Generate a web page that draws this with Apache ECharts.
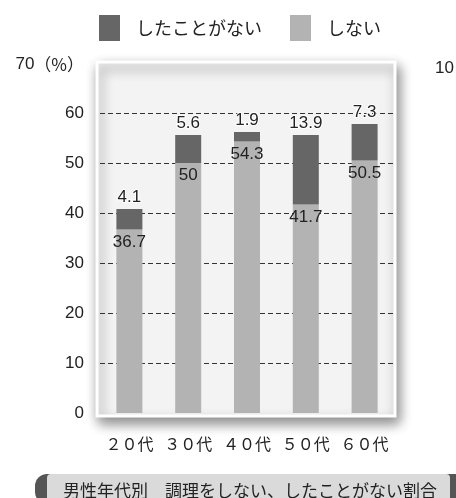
<!DOCTYPE html>
<html>
<head>
<meta charset="utf-8">
<script src="https://cdn.jsdelivr.net/npm/echarts@6/dist/echarts.min.js"></script>
<style>
html,body{margin:0;padding:0;background:#fff;}
#c{width:456px;height:498px;}
</style>
</head>
<body>
<div id="c"></div>
<script>
const categories = ['２０代', '３０代', '４０代', '５０代', '６０代'];
const shinai = [36.7, 50, 54.3, 41.7, 50.5];
const shitakotoganai = [4.1, 5.6, 1.9, 13.9, 7.3];
const seriesNames = ['したことがない', 'しない'];
const yMin = 0, yMax = 70, yStep = 10;
const captionText = '男性年代別　調理をしない、したことがない割合';

const chart = echarts.init(document.getElementById('c'), null, {renderer: 'canvas'});
const jp = '"Noto Sans CJK JP", sans-serif';
const num = 'Arial, "Liberation Sans", sans-serif';

chart.setOption({
  animation: false,
  backgroundColor: '#ffffff',
  legend: {
    data: seriesNames,
    left: 99, top: 15, padding: 0,
    itemWidth: 21, itemHeight: 26, itemGap: 28,
    icon: 'rect',
    textStyle: {fontSize: 18, color: '#222', fontFamily: jp, padding: [0, 0, 0, 11]}
  },
  grid: {left: 100, right: 62, top: 63, bottom: 85},
  graphic: [
    {type: 'rect', z: -10, shape: {x: 97, y: 62, width: 298, height: 354},
     style: {fill: '#f3f3f3', stroke: '#ffffff', lineWidth: 3,
             shadowBlur: 12, shadowColor: 'rgba(0,0,0,0.45)', shadowOffsetX: 3, shadowOffsetY: 6}},
    {type: 'text', left: 435, top: 60,
     style: {text: '10', fontSize: 17, fontFamily: num, fill: '#222'}},
    {type: 'rect', shape: {x: 35, y: 474, width: 440, height: 30, r: 12}, style: {fill: '#555555'}},
    {type: 'rect', shape: {x: 47, y: 474, width: 403, height: 30, r: 4}, style: {fill: '#dadada'}},
    {type: 'text', x: 250, y: 491,
     style: {text: captionText, fontSize: 17, fontFamily: jp, fill: '#222', align: 'center', verticalAlign: 'middle'}}
  ],
  xAxis: {
    type: 'category', data: categories,
    axisLine: {show: false}, axisTick: {show: false},
    axisLabel: {interval: 0, fontSize: 16, fontFamily: jp, color: '#222', margin: 23}
  },
  yAxis: {
    type: 'value', min: yMin, max: yMax, interval: yStep,
    axisLine: {show: false}, axisTick: {show: false},
    axisLabel: {fontSize: 17, fontFamily: num, color: '#222', margin: 16,
      formatter: v => v === yMax ? '{a|' + v + '}{b|（%）}' : String(v),
      rich: {a: {fontSize: 17, fontFamily: num, color: '#222', padding: [3, 0, 0, 0]},
             b: {fontSize: 17, fontFamily: jp, color: '#222', padding: [3, 0, 0, 0]}}},
    splitLine: {show: true, lineStyle: {type: [5, 3], width: 1,
      color: ['rgba(0,0,0,0)', '#333', '#333', '#333', '#333', '#333', '#333', 'rgba(0,0,0,0)']}}
  },
  series: [
    {name: 'しない', type: 'bar', stack: 's', data: shinai, barWidth: 26,
     itemStyle: {color: '#b3b3b3'},
     label: {show: true, position: 'insideTop', distance: 4, fontSize: 17, fontFamily: num, color: '#222',
             textBorderColor: '#ffffff', textBorderWidth: 0}},
    {name: 'したことがない', type: 'bar', stack: 's', data: shitakotoganai, barWidth: 26,
     itemStyle: {color: '#666666'},
     label: {show: true, position: 'top', distance: 3, fontSize: 17, fontFamily: num, color: '#222',
             textBorderColor: '#ffffff', textBorderWidth: 2}}
  ]
});
</script>
</body>
</html>
